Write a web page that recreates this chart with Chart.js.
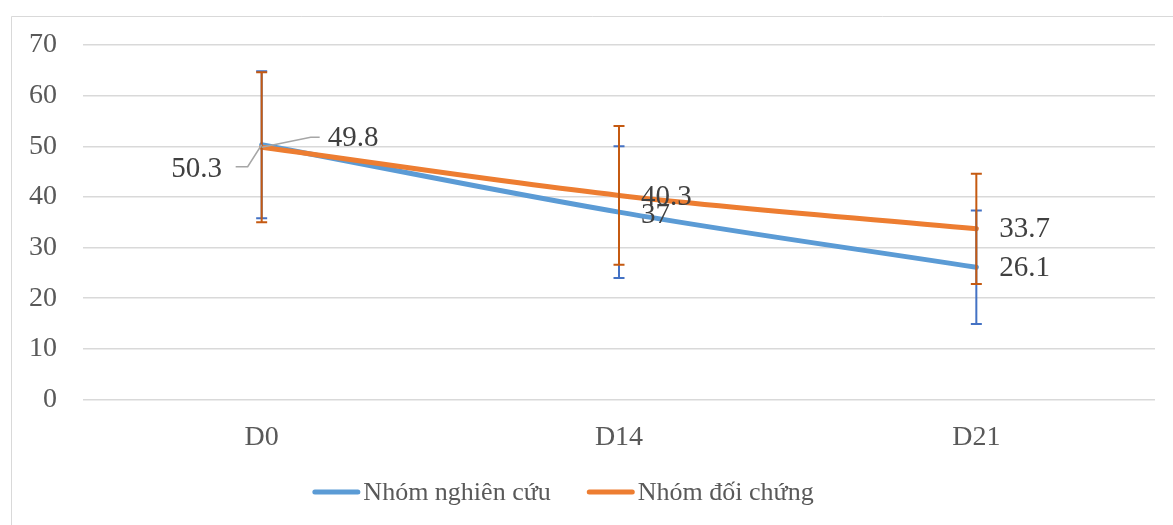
<!DOCTYPE html>
<html><head><meta charset="utf-8">
<script src="https://cdn.jsdelivr.net/npm/chart.js@4.4.1/dist/chart.umd.min.js"></script>
<style>html,body{margin:0;padding:0;background:#fff;overflow:hidden}#c{position:absolute;left:0;top:0}</style>
</head><body><canvas id="c" width="1173" height="525"></canvas>
<script>
// ---- data ----
const categories = ['D0', 'D14', 'D21'];
const studyLabel = 'Nhóm nghiên cứu';
const controlLabel = 'Nhóm đối chứng';
const studyValues = [50.3, 37, 26.1];
const controlValues = [49.8, 40.3, 33.7];
const studyErr = [14.5, 13.0, 11.2];
const controlErr = [14.8, 13.7, 10.9];
const yMin = 0, yMax = 70, yStep = 10;

// ---- styles ----
const FONT = '"Liberation Serif", "Times New Roman", serif';
const BLUE = '#5B9BD5', ORANGE = '#ED7D31';
const BLUE_ERR = '#4472C4', ORANGE_ERR = '#C55A11';
const GRID = '#d9d9d9';
// label placement relative to each point (dx,dy = text anchor offset), optional leader polyline
const labelPlacement = [
  [ {dx:-65, dy:25, align:'center', leader:[[-14,22],[-26,22]]}, {dx:22, dy:3, align:'left'}, {dx:23, dy:1, align:'left'} ],
  [ {dx:66, dy:-9, align:'left', leader:[[49,-10],[58,-10]]}, {dx:22, dy:2, align:'left'}, {dx:23, dy:1, align:'left'} ]
];
const errors = [studyErr, controlErr];
const errColors = [BLUE_ERR, ORANGE_ERR];

const framePlugin = {
  id: 'frame',
  beforeDraw(chart) {
    const ctx = chart.ctx;
    ctx.save();
    ctx.fillStyle = '#fff';
    ctx.fillRect(0, 0, chart.width, chart.height);
    ctx.strokeStyle = GRID; ctx.lineWidth = 1;
    ctx.beginPath();
    ctx.moveTo(11.5, chart.height); ctx.lineTo(11.5, 16.5); ctx.lineTo(chart.width, 16.5);
    ctx.stroke();
    ctx.restore();
  }
};

const errorBarPlugin = {
  id: 'errorBars',
  afterDatasetsDraw(chart) {
    const ctx = chart.ctx, y = chart.scales.y;
    chart.data.datasets.forEach((ds, i) => {
      const meta = chart.getDatasetMeta(i);
      ctx.save();
      ctx.strokeStyle = errColors[i]; ctx.lineWidth = 2;
      meta.data.forEach((pt, j) => {
        const v = ds.data[j], e = errors[i][j];
        const x = pt.x, yt = y.getPixelForValue(v + e), yb = y.getPixelForValue(v - e);
        ctx.beginPath();
        ctx.moveTo(x, yt); ctx.lineTo(x, yb);
        ctx.moveTo(x - 5.5, yt); ctx.lineTo(x + 5.5, yt);
        ctx.moveTo(x - 5.5, yb); ctx.lineTo(x + 5.5, yb);
        ctx.stroke();
      });
      ctx.restore();
    });
  }
};

const labelPlugin = {
  id: 'valueLabels',
  afterDatasetsDraw(chart) {
    const ctx = chart.ctx;
    chart.data.datasets.forEach((ds, i) => {
      const meta = chart.getDatasetMeta(i);
      meta.data.forEach((pt, j) => {
        const p = labelPlacement[i][j];
        ctx.save();
        if (p.leader) {
          ctx.strokeStyle = '#a6a6a6'; ctx.lineWidth = 1.5;
          ctx.beginPath(); ctx.moveTo(pt.x, pt.y);
          p.leader.forEach(([lx, ly]) => ctx.lineTo(pt.x + lx, pt.y + ly));
          ctx.stroke();
        }
        ctx.fillStyle = '#404040';
        ctx.font = '29px ' + FONT;
        ctx.textAlign = p.align; ctx.textBaseline = 'middle';
        ctx.fillText(String(ds.data[j]), pt.x + p.dx, pt.y + p.dy);
        ctx.restore();
      });
    });
  }
};

const legendPlugin = {
  id: 'customLegend',
  afterDraw(chart) {
    const ctx = chart.ctx;
    const cx = 563, cy = 493, markW = 48, gap = 3, itemGap = 36;
    ctx.save();
    ctx.font = '26px ' + FONT;
    const items = chart.data.datasets.map(ds => ({label: ds.label, color: ds.borderColor, w: ctx.measureText(ds.label).width}));
    const total = items.reduce((s, it) => s + markW + gap + it.w, 0) + itemGap * (items.length - 1);
    let x = cx - total / 2;
    items.forEach(it => {
      ctx.strokeStyle = it.color; ctx.lineWidth = 5; ctx.lineCap = 'round';
      ctx.beginPath(); ctx.moveTo(x + 2.5, cy - 1); ctx.lineTo(x + markW - 2.5, cy - 1); ctx.stroke();
      ctx.fillStyle = '#595959'; ctx.textAlign = 'left'; ctx.textBaseline = 'middle';
      ctx.fillText(it.label, x + markW + gap, cy);
      x += markW + gap + it.w + itemGap;
    });
    ctx.restore();
  }
};

new Chart(document.getElementById('c'), {
  type: 'line',
  data: {
    labels: categories,
    datasets: [
      {label: studyLabel, data: studyValues, borderColor: BLUE, backgroundColor: BLUE, borderWidth: 5, pointRadius: 0, tension: 0.35, order: 1, borderCapStyle: 'round'},
      {label: controlLabel, data: controlValues, borderColor: ORANGE, backgroundColor: ORANGE, borderWidth: 5, pointRadius: 0, tension: 0.35, order: 0, borderCapStyle: 'round'}
    ]
  },
  options: {
    responsive: false,
    animation: false,
    devicePixelRatio: 1,
    layout: {padding: {left: 0, right: 18, top: 45, bottom: 55.5}},
    plugins: {legend: {display: false}, tooltip: {enabled: false}},
    scales: {
      x: {
        offset: true,
        grid: {display: false, drawTicks: false},
        border: {display: false},
        ticks: {color: '#595959', font: {family: FONT, size: 28}, padding: 21},
        afterFit(s) { s.height = 70; }
      },
      y: {
        min: yMin, max: yMax,
        grid: {color: GRID, lineWidth: 1.5, drawTicks: false},
        border: {display: false},
        ticks: {stepSize: yStep, color: '#595959', font: {family: FONT, size: 28}, padding: 26},
        afterFit(s) { s.width = 83; }
      }
    }
  },
  plugins: [framePlugin, errorBarPlugin, labelPlugin, legendPlugin]
});
</script></body></html>
